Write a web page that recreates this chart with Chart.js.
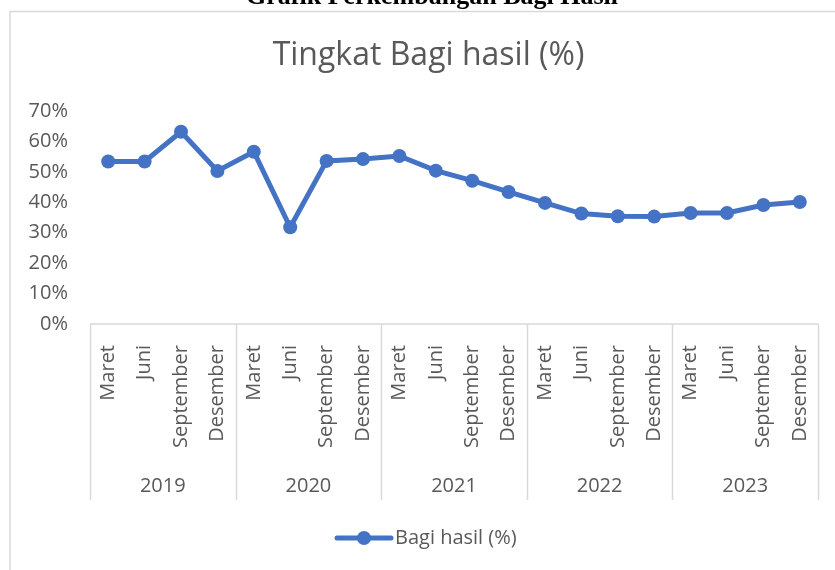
<!DOCTYPE html>
<html>
<head>
<meta charset="utf-8">
<script src="https://cdn.jsdelivr.net/npm/chart.js@4/dist/chart.umd.min.js"></script>
<style>
  html, body { margin: 0; padding: 0; background: #fff; }
  #wrap { width: 835px; height: 570px; position: relative; }
</style>
</head>
<body>
<div id="wrap"><canvas id="chart" width="835" height="570"></canvas></div>
<script>
// data
const years = ['2019', '2020', '2021', '2022', '2023'];
const months = ['Maret', 'Juni', 'September', 'Desember'];
const bagiHasil = [
  0.534, 0.534, 0.632, 0.503,   // 2019
  0.566, 0.318, 0.536, 0.542,   // 2020
  0.552, 0.504, 0.471, 0.434,   // 2021
  0.398, 0.363, 0.354, 0.353,   // 2022
  0.365, 0.365, 0.391, 0.401    // 2023
];
const yTicks = [0, 0.1, 0.2, 0.3, 0.4, 0.5, 0.6, 0.7];

const labels = [];
years.forEach(y => months.forEach(m => labels.push([m, y])));

const FONT = '"Open Sans", "Noto Sans", sans-serif';
const GREY = '#595959';
const LINE = '#d9d9d9';
const BLUE = '#4472C4';

// draws the frame, titles, the two level category axis and the legend
const excelLook = {
  id: 'excelLook',
  beforeDraw(chart) {
    const ctx = chart.ctx;
    ctx.save();
    ctx.fillStyle = '#fff';
    ctx.fillRect(0, 0, chart.width, chart.height);
    ctx.strokeStyle = LINE;
    ctx.lineWidth = 1.5;
    ctx.strokeRect(10, 11.5, 900, 700);

    // cut off document heading above the chart
    ctx.fillStyle = '#000';
    ctx.font = 'bold 26px "Liberation Serif", "Times New Roman", serif';
    ctx.textAlign = 'center';
    ctx.textBaseline = 'alphabetic';
    ctx.fillText('Grafik Perkembangan Bagi Hasil', 432, 4);

    ctx.fillStyle = GREY;
    ctx.font = '32px ' + FONT;
    ctx.fillText('Tingkat Bagi hasil (%)', 428.5, 65);
    ctx.restore();
  },
  afterDraw(chart) {
    const ctx = chart.ctx;
    const x = chart.scales.x;
    const area = chart.chartArea;
    const step = x.getPixelForValue(1) - x.getPixelForValue(0);
    const top = area.bottom;
    const bottom = 500;

    ctx.save();
    ctx.strokeStyle = LINE;
    ctx.lineWidth = 1.5;
    ctx.beginPath();
    ctx.moveTo(area.left, top);
    ctx.lineTo(area.right, top);
    for (let g = 0; g <= years.length; g++) {
      const px = Math.round(x.getPixelForValue(g * months.length) - step / 2) + 0.5;
      ctx.moveTo(px, top);
      ctx.lineTo(px, bottom);
    }
    ctx.stroke();

    ctx.fillStyle = GREY;
    ctx.font = '20px ' + FONT;
    labels.forEach((lab, i) => {
      const px = x.getPixelForValue(i);
      ctx.save();
      ctx.translate(px, 345);
      ctx.rotate(-Math.PI / 2);
      ctx.textAlign = 'right';
      ctx.textBaseline = 'middle';
      ctx.fillText(lab[0], 0, 0);
      ctx.restore();
    });

    ctx.textAlign = 'center';
    ctx.textBaseline = 'middle';
    years.forEach((yr, g) => {
      const a = x.getPixelForValue(g * months.length);
      const b = x.getPixelForValue(g * months.length + months.length - 1);
      ctx.fillText(yr, (a + b) / 2, 486);
    });

    // legend
    const ly = 538;
    ctx.strokeStyle = BLUE;
    ctx.lineWidth = 5;
    ctx.lineCap = 'round';
    ctx.beginPath();
    ctx.moveTo(337, ly);
    ctx.lineTo(391, ly);
    ctx.stroke();
    ctx.fillStyle = BLUE;
    ctx.beginPath();
    ctx.arc(364, ly, 7, 0, Math.PI * 2);
    ctx.fill();
    ctx.fillStyle = GREY;
    ctx.textAlign = 'left';
    ctx.fillText('Bagi hasil (%)', 395, ly);
    ctx.restore();
  }
};

new Chart(document.getElementById('chart'), {
  type: 'line',
  data: {
    labels,
    datasets: [{
      label: 'Bagi hasil (%)',
      data: bagiHasil,
      borderColor: BLUE,
      backgroundColor: BLUE,
      borderWidth: 5,
      pointRadius: 7,
      pointHoverRadius: 7,
      pointBorderWidth: 0,
      tension: 0
    }]
  },
  options: {
    responsive: false,
    animation: false,
    layout: { padding: { top: 111, bottom: 246, left: 0, right: 17 } },
    plugins: {
      legend: { display: false },
      title: { display: false },
      tooltip: { enabled: false }
    },
    scales: {
      x: {
        type: 'category',
        offset: true,
        display: false
      },
      y: {
        min: 0,
        max: 0.7,
        afterFit(scale) { scale.width = 90; },
        afterBuildTicks(scale) { scale.ticks = yTicks.map(v => ({ value: v })); },
        grid: { display: false, drawTicks: false },
        border: { display: false },
        ticks: {
          padding: 22,
          color: GREY,
          font: { family: FONT, size: 20 },
          callback: v => Math.round(v * 100) + '%'
        }
      }
    }
  },
  plugins: [excelLook]
});
</script>
</body>
</html>
